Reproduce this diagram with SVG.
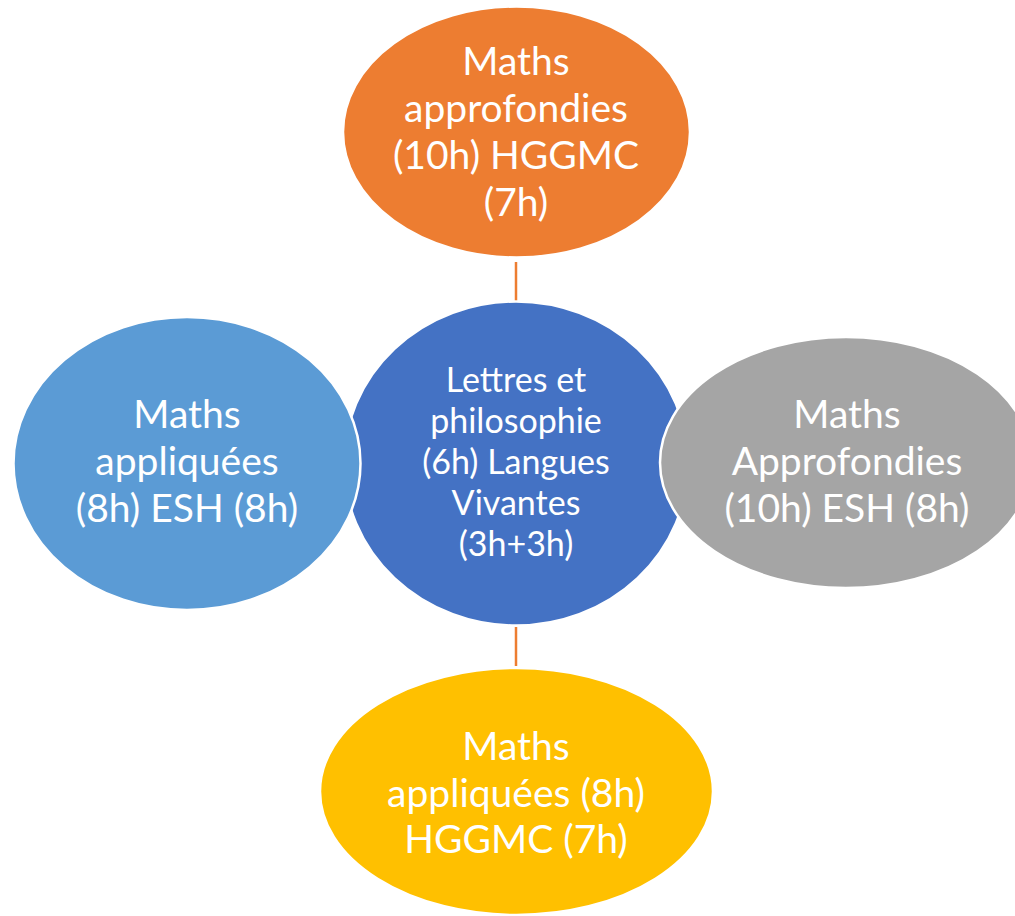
<svg xmlns="http://www.w3.org/2000/svg" width="1015" height="916" viewBox="0 0 1015 916">
<style>
.n{stroke:#fff;stroke-width:2.5}
.t{font-family:Lato,"Liberation Sans",sans-serif;fill:#fff;text-anchor:middle;font-size:39px}
.c{font-size:34px}
.e{stroke:#ED7D31;stroke-width:2.5;fill:none}
</style>
<rect width="1015" height="916" fill="#fff"/>
<g id="connectors">
<line class="e" x1="516" y1="262" x2="516" y2="301"/>
<line class="e" x1="516" y1="627" x2="516" y2="666"/>
</g>
<g id="center">
<ellipse class="n" cx="516" cy="463.5" rx="172" ry="162" fill="#4472C4"/>
<text class="t c" x="516" y="392">Lettres et</text>
<text class="t c" x="516" y="433">philosophie</text>
<text class="t c" x="516" y="474">(6h) Langues</text>
<text class="t c" x="516" y="515">Vivantes</text>
<text class="t c" x="516" y="556">(3h+3h)</text>
</g>
<g id="top">
<ellipse class="n" cx="516.5" cy="132" rx="173.5" ry="125.5" fill="#ED7D31"/>
<text class="t" x="516" y="75">Maths</text>
<text class="t" x="516" y="122">approfondies</text>
<text class="t" x="516" y="169">(10h) HGGMC</text>
<text class="t" x="516" y="216">(7h)</text>
</g>
<g id="left">
<ellipse class="n" cx="187" cy="463.5" rx="173.5" ry="146.5" fill="#5B9BD5"/>
<text class="t" x="187" y="428">Maths</text>
<text class="t" x="187" y="475">appliquées</text>
<text class="t" x="187" y="522">(8h) ESH (8h)</text>
</g>
<g id="right">
<ellipse class="n" cx="846" cy="462.5" rx="186" ry="125.5" fill="#A5A5A5"/>
<text class="t" x="847" y="428">Maths</text>
<text class="t" x="847" y="475">Approfondies</text>
<text class="t" x="847" y="522">(10h) ESH (8h)</text>
</g>
<g id="bottom">
<ellipse class="n" cx="516.5" cy="791.5" rx="196.5" ry="123.5" fill="#FFC000"/>
<text class="t" x="516" y="760">Maths</text>
<text class="t" x="516" y="807">appliquées (8h)</text>
<text class="t" x="516" y="853">HGGMC (7h)</text>
</g>
</svg>
